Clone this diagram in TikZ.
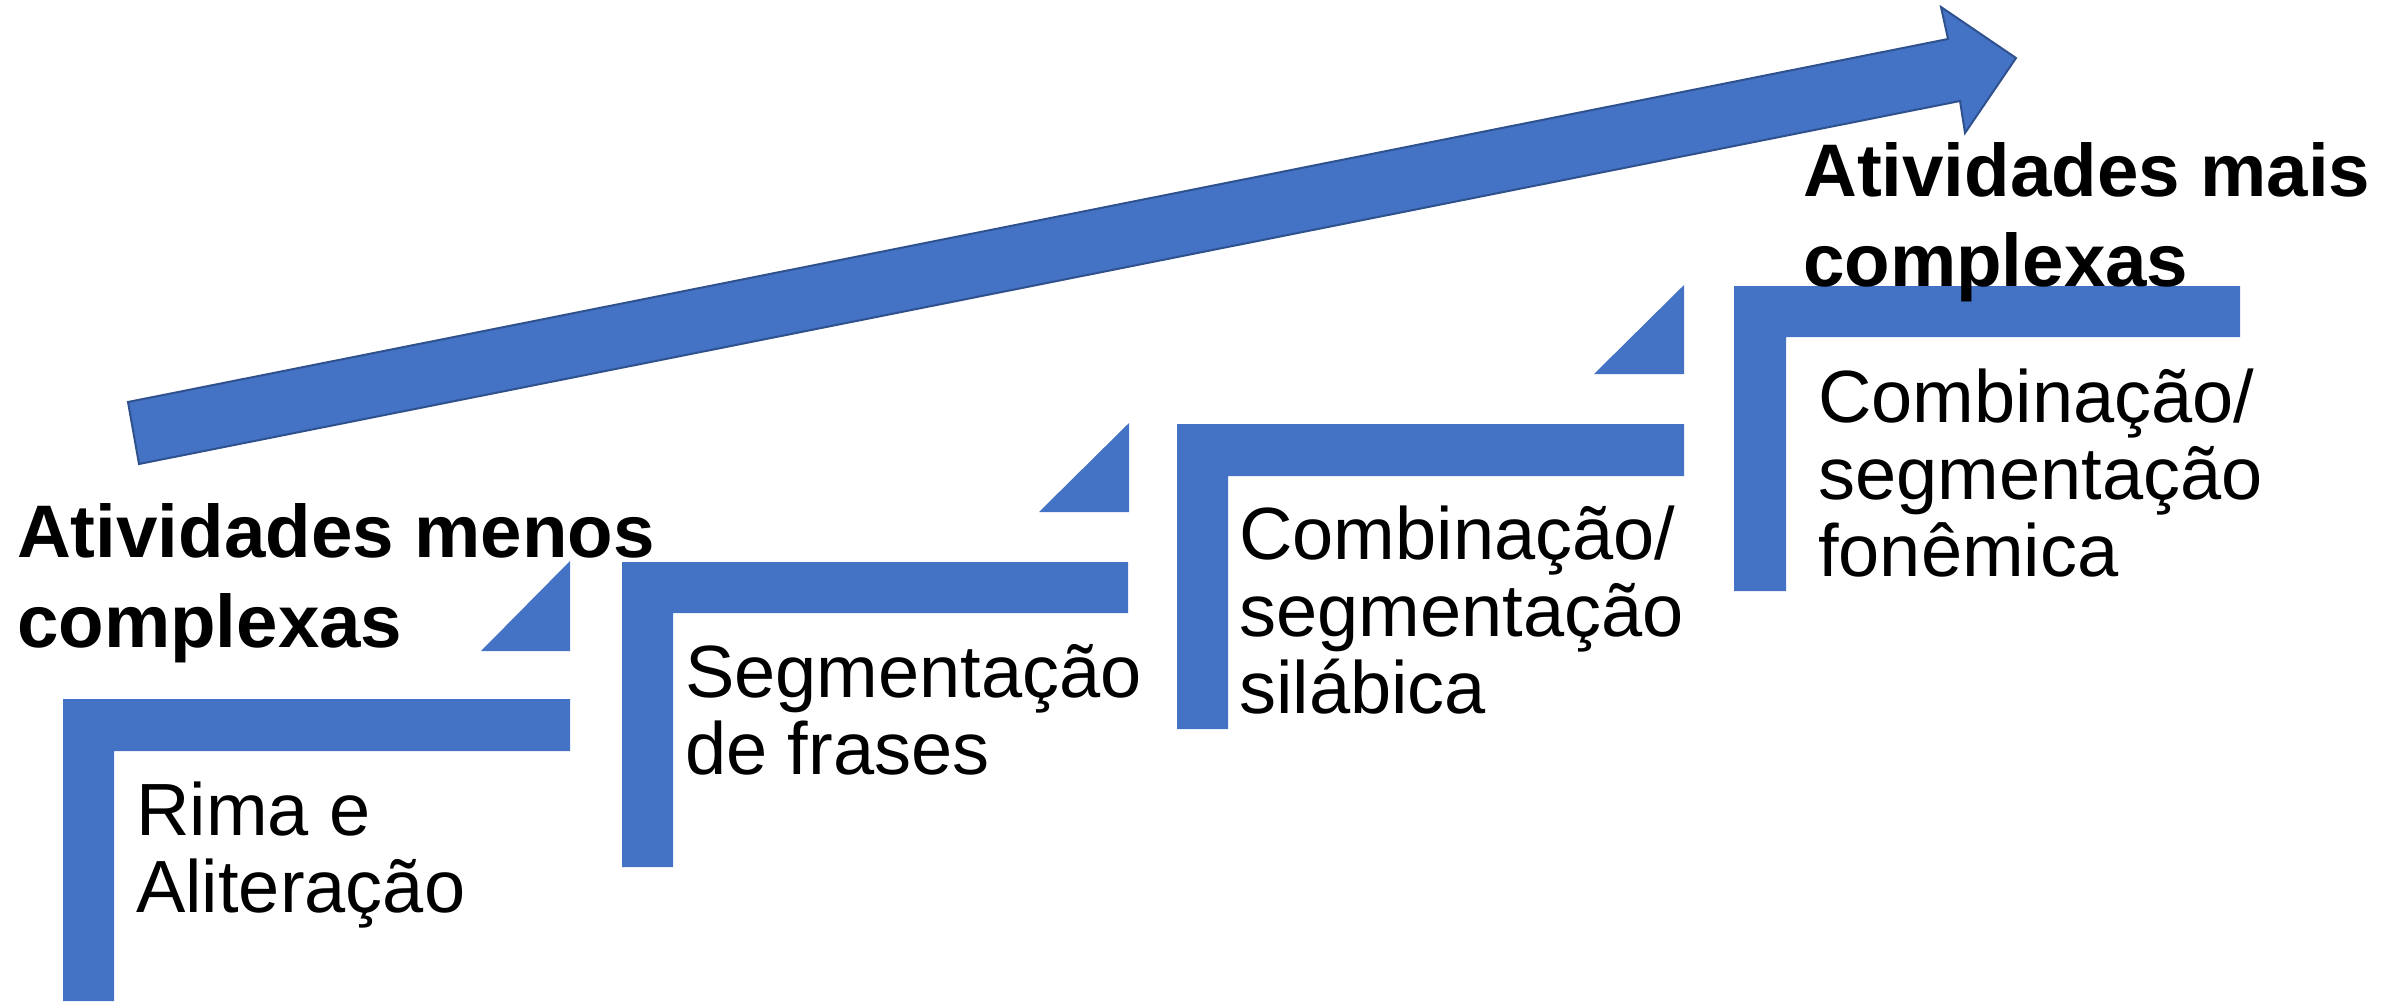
\documentclass[tikz,border=0pt]{standalone}
\usepackage{fontspec}
\setmainfont{Liberation Sans}
\definecolor{stepblue}{HTML}{4472C4}
\definecolor{edgeblue}{HTML}{2F528F}
\begin{document}
\begin{tikzpicture}[x=1pt,y=-1pt,
  stepshape/.style={fill=stepblue},
  bigarrow/.style={fill=stepblue,draw=edgeblue,line width=2pt,line join=miter},
  steplabel/.style={anchor=base west,inner sep=0pt,font=\fontsize{74}{77}\selectfont},
  headlabel/.style={anchor=base west,inner sep=0pt,font=\fontsize{74.5}{90}\selectfont\bfseries}]
\useasboundingbox (0,0) rectangle (2392,1001);
% big arrow
\draw[bigarrow] (128,402) -- (1948,39) -- (1941,7) -- (2016,58) -- (1965,133) -- (1960,101) -- (139,464) -- cycle;
% steps
\fill[stepshape] (63,699) -- (570,699) -- (570,751) -- (114,751) -- (114,1001) -- (63,1001) -- cycle;
\fill[stepshape] (622,562) -- (1128,562) -- (1128,613) -- (673,613) -- (673,867) -- (622,867) -- cycle;
\fill[stepshape] (1177,424) -- (1684,424) -- (1684,476) -- (1228,476) -- (1228,729) -- (1177,729) -- cycle;
\fill[stepshape] (1734,286) -- (2240,286) -- (2240,337) -- (1786,337) -- (1786,591) -- (1734,591) -- cycle;
% triangles
\fill[stepshape] (570,561) -- (570,651) -- (481,651) -- cycle;
\fill[stepshape] (1129,423) -- (1129,512) -- (1039,512) -- cycle;
\fill[stepshape] (1684,285) -- (1684,374) -- (1594,374) -- cycle;
% labels
\node[steplabel] (rima) at (136,835) {\vtop{\hbox{Rima e}\hbox{Aliteração}}};
\node[steplabel] (frases) at (685,697) {\vtop{\hbox{Segmentação}\hbox{de frases}}};
\node[steplabel] (silabica) at (1239,559) {\vtop{\hbox{Combinação/}\hbox{segmentação}\hbox{silábica}}};
\node[steplabel] (fonemica) at (1818,422) {\vtop{\hbox{Combinação/}\hbox{segmentação}\hbox{fonêmica}}};
\node[headlabel] (menos) at (17,557) {\vtop{\hbox{Atividades menos}\hbox{complexas}}};
\node[headlabel] (mais) at (1803,196) {\vtop{\hbox{Atividades mais}\hbox{complexas}}};
\end{tikzpicture}
\end{document}
